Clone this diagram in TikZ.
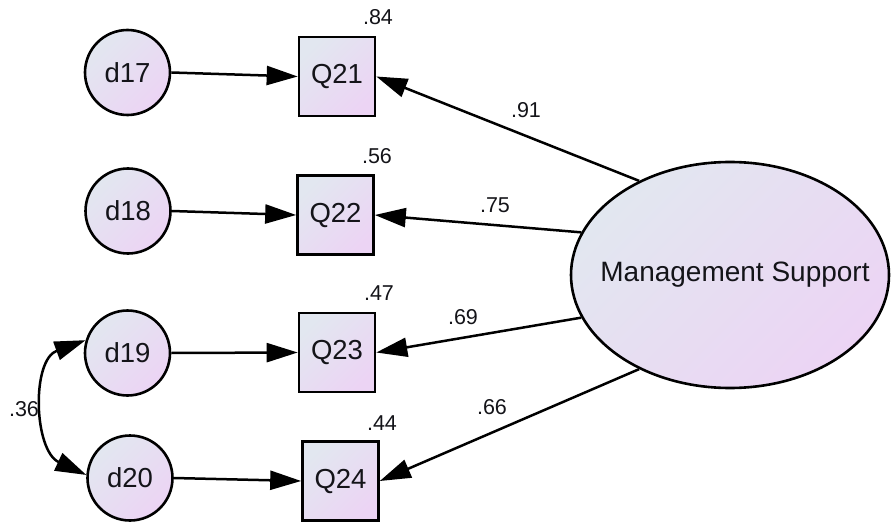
\documentclass[tikz,border=0pt]{standalone}
\usepackage{fontspec}
\setmainfont{Liberation Sans}
\usetikzlibrary{arrows.meta,shapes.geometric}
\definecolor{fillA}{RGB}{226,231,240}
\definecolor{fillB}{RGB}{236,212,244}
\definecolor{txt}{RGB}{20,20,25}
\begin{document}
\begin{tikzpicture}[x=1pt,y=1pt,
  shp/.style={draw=black, line width=2.6pt, left color=fillA, right color=fillB, shading angle=45, inner sep=0pt,
    font=\fontsize{27.5}{31}\selectfont, text=txt},
  errc/.style={shp, circle, minimum size=85pt},
  obsbox/.style={shp, rectangle, minimum width=76pt, minimum height=79pt},
  latent/.style={shp, ellipse, minimum width=318pt, minimum height=226pt},
  lbl/.style={font=\fontsize{21.5}{24}\selectfont, text=txt, inner sep=0pt},
  tip/.tip={Triangle[length=31pt,width=19pt]},
  arr/.style={line width=2.5pt, -tip},
  cov/.style={line width=2.5pt, tip-tip}
]
\useasboundingbox (0,0) rectangle (891,523);

\node[errc] (d17) at (127.5,450.5) {d17};
\node[errc] (d18) at (128,312) {d18};
\node[errc] (d19) at (127.5,170) {d19};
\node[errc] (d20) at (130,45) {d20};

\node[obsbox] (Q21) at (337,446.5) {Q21};
\node[obsbox] (Q22) at (335.5,308) {Q22};
\node[obsbox] (Q23) at (337,170.5) {Q23};
\node[obsbox] (Q24) at (340.5,42) {Q24};

\node[latent, label={[font=\fontsize{28}{31}\selectfont, text=txt, inner sep=0pt, xshift=5pt]center:Management Support}] (ms) at (730,248) {};

\draw[arr] (d17.east) -- (Q21.west);
\draw[arr] (d18.east) -- (Q22.west);
\draw[arr] (d19.east) -- (Q23.west);
\draw[arr] (d20.east) -- (Q24.west);

\draw[arr] (ms.134) -- (Q21.east);
\draw[arr] (ms.164) -- (Q22.east);
\draw[arr] (ms.196) -- (Q23.east);
\draw[arr] (ms.226) -- (Q24.east);

\draw[cov] (d19.163) to[out=200,in=155,looseness=1.1] (d20.176);

\node[lbl] (l84) at (378,506) {.84};
\node[lbl] (l56) at (377,367) {.56};
\node[lbl] (l47) at (379,230) {.47};
\node[lbl] (l44) at (382,100) {.44};
\node[lbl] (l36) at (24,114) {.36};
\node[lbl] (l91) at (526,413) {.91};
\node[lbl] (l75) at (495,318) {.75};
\node[lbl] (l69) at (463,206) {.69};
\node[lbl] (l66) at (492,116) {.66};
\end{tikzpicture}
\end{document}
